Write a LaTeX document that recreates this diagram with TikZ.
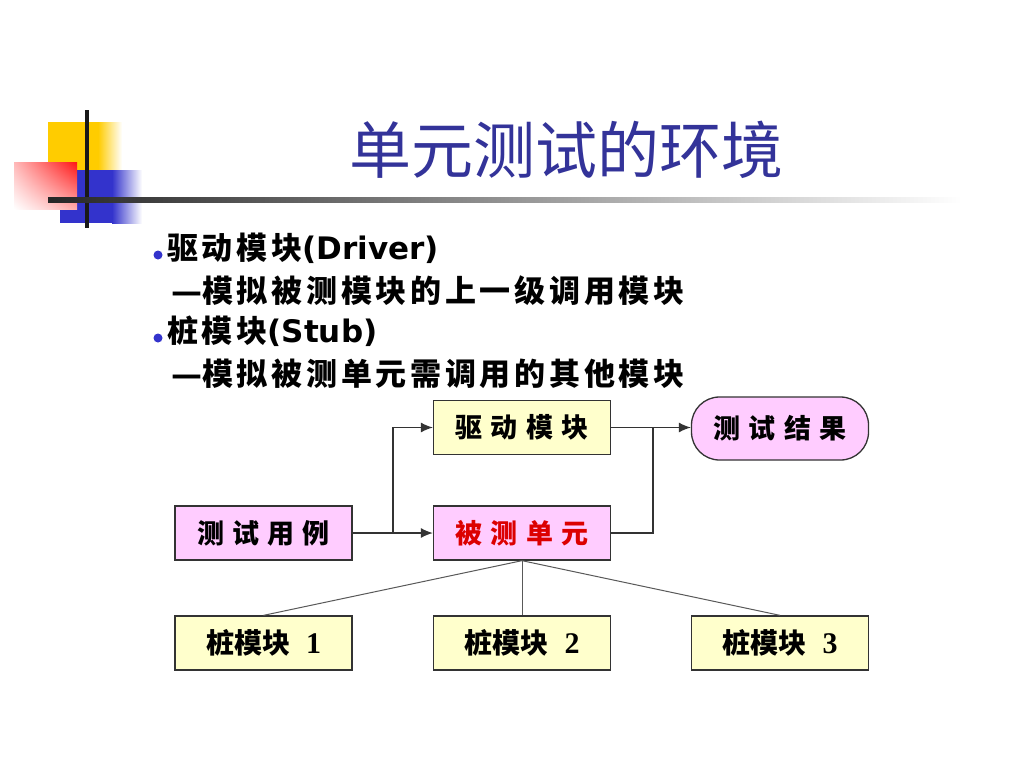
\documentclass[tikz,border=0pt]{standalone}
\usepackage{fontspec}
\setmainfont{DejaVu Sans}
\newfontfamily\cjk{Noto Sans CJK SC}
\newfontfamily\cjkwide[LetterSpace=12]{Noto Sans CJK SC}
\newfontfamily\boxfont[LetterSpace=30]{Noto Sans CJK SC}
\newfontfamily\digitfont{Liberation Serif}
\usetikzlibrary{calc}
\usetikzlibrary{arrows.meta}
\usetikzlibrary{shadings}
\definecolor{titleblue}{RGB}{51,51,153}
\definecolor{dotblue}{RGB}{51,51,204}
\definecolor{boxyellow}{RGB}{255,255,204}
\definecolor{boxpink}{RGB}{255,204,255}
\definecolor{unitred}{RGB}{220,0,0}
\definecolor{logoyellow}{RGB}{255,204,0}
\definecolor{logored}{RGB}{255,20,20}
\definecolor{logoblue}{RGB}{51,51,204}

\begin{document}
\begin{tikzpicture}[x=1pt, y=-1pt]
    \tikzstyle{module} = [draw=black!80, line width=1.3pt, minimum width=177pt, minimum height=54pt, inner sep=0pt, font=\boxfont\bfseries\fontsize{27}{29}\selectfont]
    \tikzstyle{yellowbox} = [module, fill=boxyellow]
    \tikzstyle{pinkbox} = [module, fill=boxpink]
    \tikzstyle{stubbox} = [yellowbox, font=\cjk\bfseries\fontsize{28}{30}\selectfont]
    \tikzstyle{link} = [line width=1.3pt, draw=black!80]
    \tikzstyle{arrow} = [link, -{Latex[length=12pt, width=10pt]}]
    \tikzstyle{stubline} = [line width=1pt, draw=black!65]
    \tikzstyle{bulletline} = [anchor=west, inner sep=0pt, font=\fontsize{31}{33}\selectfont\bfseries]
    \useasboundingbox[fill=white] (0, 0) rectangle (1024, 768);

    % logo
    \fill[logoyellow] (48, 122) rectangle (98, 172);
    \shade[left color=logoyellow, right color=white] (98, 122) rectangle (122, 172);
    \fill[logoblue] (60, 170) rectangle (112, 223);
    \shade[left color=logoblue, right color=white] (112, 170) rectangle (142, 223);
    \shade[upper right=logored, lower right=logored!35, upper left=logored!30, lower left=white] (14, 162) rectangle (77, 209);
    \draw[line width=4pt, black!90] (87, 110) -- (87, 228);
    \shade[left color=black!85, right color=white] (48, 197.5) rectangle (962, 202.5);

    \node[text=titleblue, font=\cjk\fontsize{62}{64}\selectfont] (title) at (566, 150) {单元测试的环境};

    \fill[dotblue] (158, 255) circle[radius=4.5];
    \node[bulletline] (driver) at (167, 248) {{\cjkwide 驱动模块}(Driver)};
    \node[bulletline] (driverinfo) at (171, 291) {—{\cjkwide 模拟被测模块的上一级调用模块}};
    \fill[dotblue] (158, 338) circle[radius=4.5];
    \node[bulletline] (stub) at (167, 331) {{\cjkwide 桩模块}(Stub)};
    \node[bulletline] (stubinfo) at (171, 374) {—{\cjkwide 模拟被测单元需调用的其他模块}};

    \node[yellowbox] (drv) at (522, 427.5) {驱动模块};
    \node[pinkbox, minimum height=63pt, rounded corners=28pt] (res) at (780, 428.5) {测试结果};
    \node[pinkbox] (case) at (263.5, 533) {测试用例};
    \node[pinkbox, text=unitred] (unit) at (522, 533) {被测单元};
    \node[stubbox] (stub1) at (263.5, 643) {桩模块\hspace{16pt}{\digitfont\bfseries\fontsize{30}{32}\selectfont 1}};
    \node[stubbox] (stub2) at (522, 643) {桩模块\hspace{16pt}{\digitfont\bfseries\fontsize{30}{32}\selectfont 2}};
    \node[stubbox] (stub3) at (780, 643) {桩模块\hspace{16pt}{\digitfont\bfseries\fontsize{30}{32}\selectfont 3}};

    \coordinate (fork) at (393, 533);
    \coordinate (merge) at (653, 427.5);
    \draw[arrow] (case) -- (unit);
    \draw[arrow] (fork) |- (drv);
    \draw[arrow] (drv) -- (drv -| res.west);
    \draw[link] (unit) -| (merge);
    \draw[stubline] (unit.south) -- (stub1.north);
    \draw[stubline] (unit.south) -- (stub2.north);
    \draw[stubline] (unit.south) -- (stub3.north);
\end{tikzpicture}
\end{document}
